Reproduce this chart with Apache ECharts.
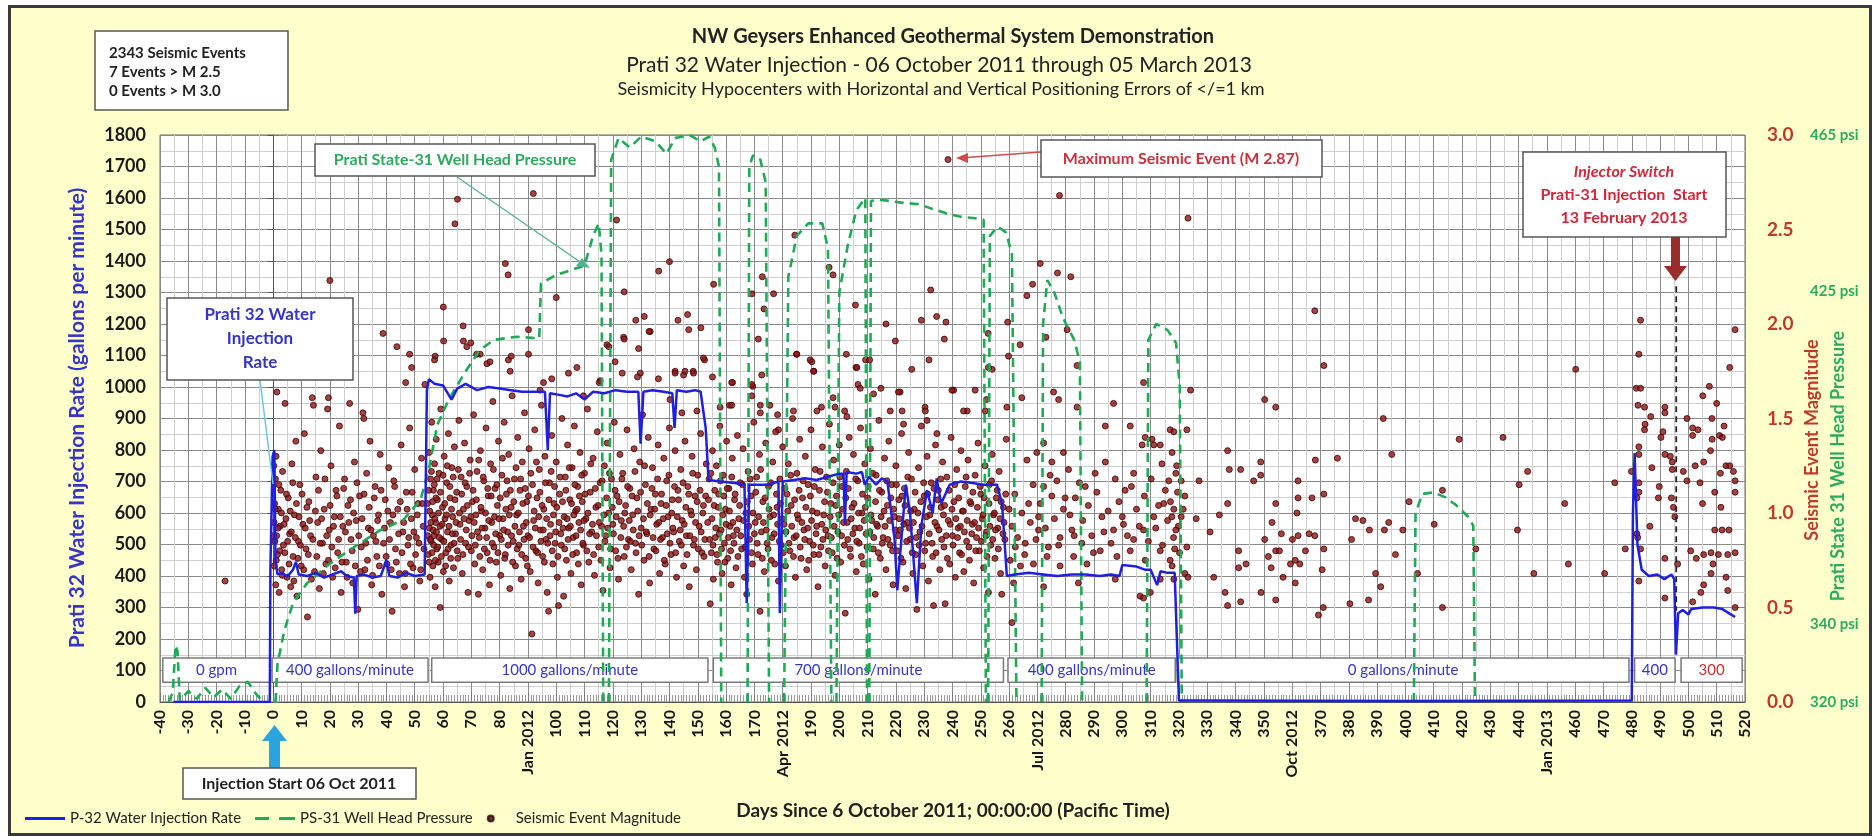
<!DOCTYPE html>
<html><head><meta charset="utf-8">
<script src="https://cdn.jsdelivr.net/npm/echarts/dist/echarts.min.js"></script>
<style>
html,body{margin:0;padding:0;background:#fff;}
#frame{position:absolute;left:8px;top:5px;width:1858px;height:825px;border:3px solid #3a3a3a;background:#FFFFCC;}
#c{position:absolute;left:0;top:0;width:1874px;height:836px;}
</style>
</head><body><div id="frame"></div><div id="c"></div>
<script>
// ---------------- DATA ----------------
// x tick labels replaced by month names
const monthTickLabels = [[90,'Jan 2012'],[180,'Apr 2012'],[270,'Jul 2012'],[360,'Oct 2012'],[450,'Jan 2013']];
const psiTickLabels = [320, 340, 425, 465];

// P-32 water injection rate [day, gallons per minute]
const injectionRate = [
[-35.3,0],[-1.2,0],[-1.0,420],[-0.2,780],[0.4,800],[0.8,450],[1.5,405],[3,410],[5,398],[7,420],[8,445],[9,405],[12,400],[15,410],[18,395],[21,405],[24,415],[26,400],[28.5,395],[29,280],[29.5,400],[32,405],[35,395],[38,400],[40,450],[41,400],[44,395],[47,410],[50,400],[53.5,405],
[54.3,990],[55,1025],[57,1010],[60,1005],[63,960],[65,995],[68,1010],[72,990],[76,1000],[80,995],[84,990],[88,985],[92,985],[96,985],[97,800],[97.8,980],[101,975],[104,970],[107,980],[110,960],[113,985],[117,980],[121,990],[125,985],[129,985],[129.8,820],[130.8,985],[134,990],[138,985],[141,980],[141.8,870],[142.6,990],[146,985],[149,990],[151,985],[152.8,870],
[153.8,705],[158,700],[163,695],[166.5,690],[167.3,314],[168.2,690],[172,690],[175,690],[178.5,700],[179,282],[180,700],[184,705],[188,710],[192,705],[196,715],[200,725],[201.5,725],[202,568],[202.6,730],[206,725],[208,730],[209,690],[210.5,715],[213,690],[215,710],[217,700],[219.5,520],[220.5,355],[222,523],[223.5,690],[225,600],[227.4,314],[229,560],[231,672],[233,600],[234.4,710],[236,630],[239,690],[243,700],[247,695],[251,690],[255.7,690],[257.5,630],
[259.2,400],[262,405],[267,410],[272,405],[277,400],[282,405],[287,405],[292,400],[296,405],[299,400],[300,435],[305,430],[308,420],[310,420],[312.3,371],[313.5,415],[316,410],[318.5,410],
[320,5],[325,5],[400,3],[480,5],[480.4,600],[481,790],[482,500],[483.5,420],[486,400],[489,405],[491.5,390],[494,405],[495,390],[495.6,150],[496.4,282],[498,292],[500,278],[501,295],[505,300],[509,300],[512,295],[515,278],[516.5,270]
];

// PS-31 well head pressure [day, psi]; null = no reading
const wellHeadPressure = [
[-37,320.0],[-35.5,322.4],[-34.5,334.5],[-33.8,332.9],[-33,320.4],[-30,322.8],[-27,320.8],[-24,323.6],[-21,321.2],[-18,323.2],[-15,320.8],[-12,324.0],[-9,325.2],[-6,322.0],[-4,320.4],null,
[0.8,320.0],[1.5,329.7],[4,338.5],[7,345.3],[12,350.4],[20,355.4],[30,360.3],[38,364.0],[46,366.6],[52,371.6],[55,379.6],[58,390.9],[62,397.3],[68,404.6],[73,410.0],[78,412.6],[86,413.4],[94,413.0],[94.6,427.1],[100,429.2],[105,430.4],[110,431.6],[113,439.2],[115,442.4],[116,434.4],[116.6,320],null,
[118.6,320],[119.4,458.6],[122,464.2],[126,461.8],[130,464.6],[135,463.4],[139,460.2],[142,464.2],[147,465.0],[151,463.4],[154,464.6],[156,461.8],[157.5,456.9],[158.3,320],null,
[167.6,320],[168.2,456.9],[169.5,459.8],[172,459.0],[174,452.9],[175.2,320],null,
[180.5,320],[182,428.8],[185,439.2],[189,442.4],[194,442.4],[196,436.0],[197.2,320],null,
[199,320],[200,424.7],[203,436.8],[206,445.7],[209.2,448.9],[209.8,320],null,
[210.6,320],[211.2,448.1],[214,448.5],[218,448.1],[222,447.7],[228,447.3],[233,446.1],[238,444.9],[243,444.1],[248,443.7],[251,443.3],[251.8,320],null,
[252.6,320],[253.2,439.2],[256,441.6],[259,440.0],[261,434.4],[262.6,320],null,
[271.5,320],[272,416.7],[273.5,427.9],[276,424.7],[279,418.3],[283,412.6],[285,407.0],[285.8,320],null,
[308.6,320],[309.2,412.6],[312,416.7],[316,415.1],[319,411.8],[320.3,400.6],[321,320],null,
[403,320],[403.6,368.3],[406,373.2],[410,373.6],[414,372.4],[418,370.3],[422,367.5],[424,365.1],[424.6,320]
];

// Prati-31 injector switch marker [day, gpm]
const injectorSwitch = [[495.7,1320],[495.7,290]];

// Seismic events [day, magnitude]
const seismicEvents = [
[-17,0.64],
[0.2,1.25],[0.3,0.95],[0.4,0.72],[0.5,1.05],[0.6,0.85],[0.8,1.18],[0.9,0.62],[1.0,1.30],[1.2,0.88],[1.3,1.64],[1.5,0.78],[1.8,1.02],[2.1,0.58],[2.4,0.93],[2.7,1.12],[3.0,0.70],[3.3,1.22],[3.6,0.83],[4.2,1.58],[4.5,0.97],[4.9,0.66],[5.3,1.08],[5.8,0.89],[6.2,0.61],[6.6,1.26],[7.0,0.77],[7.5,0.99],[8.0,1.38],[8.4,0.56],[8.9,0.85],[9.4,1.15],[9.9,0.72],[10.5,0.94],[11.0,1.42],[11.6,0.81],[12.1,0.45],[12.6,1.06],[13.2,0.88],[13.8,1.61],[14.2,1.57],[14.6,0.69],[15.1,1.19],[15.7,0.95],[16.3,0.60],[16.8,1.33],[17.4,0.84],[18.0,1.02],[18.6,0.73],[19.2,1.55],[19.5,1.61],[19.8,0.91],[20.0,2.23],[20.4,1.25],[21.0,0.66],[21.6,0.98],[22.2,1.12],[22.8,0.79],[23.4,1.46],[24.0,0.58],[24.6,0.93],[25.2,1.18],[25.8,0.74],[26.4,1.04],[27.0,1.58],[27.5,0.86],[28.1,0.63],[28.7,1.27],[29.3,0.96],[29.9,0.49],[30.5,1.09],[31.1,0.82],[31.7,1.53],[32.0,1.50],[32.4,0.70],[33.0,1.21],[33.6,0.92],[34.2,1.38],[34.8,0.62],[35.4,0.88],[36.0,1.14],[36.6,0.77],[37.2,0.99],[37.8,1.31],[38.4,0.57],[38.8,1.95],[39.0,0.84],[39.6,1.07],[40.2,0.73],[40.8,1.24],[41.4,0.95],[42.0,0.48],[42.6,1.17],[43.2,0.81],[43.7,1.88],[44.0,1.02],[44.6,0.68],[45.2,1.36],[45.8,0.90],[46.4,0.61],[47.0,1.11],[47.6,0.83],[48.2,1.45],[48.8,0.97],[49.4,0.71],[50.0,1.23],[50.6,0.87],[51.2,1.05],[51.8,0.64],[52.4,1.29],[53.0,0.93],[53.6,1.68],
[0.1,0.88],[0.7,1.02],[1.1,0.75],[1.7,0.92],[2.0,1.15],[2.3,0.80],[2.9,1.00],[3.2,0.67],[3.8,0.94],[4.1,0.79],[4.7,1.10],[5.1,0.85],[5.6,0.73],[6.0,1.01],[6.4,0.90],[6.9,1.16],[7.3,0.64],[7.8,0.87],[8.2,1.05],[8.7,0.76],[9.1,0.98],[9.6,0.83],[10.2,1.10],[10.8,0.70],[11.3,0.92],[11.9,1.03],[12.4,0.78],[12.9,0.96],[13.5,0.65],[14.0,0.86],[14.9,1.01],[15.4,0.77],[16.0,1.12],[16.6,0.84],[17.1,0.97],[17.7,0.68],[18.3,1.18],[18.9,0.88],[19.5,0.75],[20.1,1.04],[20.7,0.82],[21.3,0.93],[21.9,0.71],[22.5,1.09],[23.1,0.86],[23.7,0.98],[24.3,0.74],[24.9,1.13],[25.5,0.90],[26.1,0.66],[26.7,0.95],[27.3,1.07],[27.9,0.80],[28.4,1.00],[29.0,0.72],[29.6,1.16],[30.2,0.88],[30.8,0.69],[31.4,0.97],[32.1,1.10],[32.7,0.84],[33.3,0.75],[33.9,1.03],[34.5,0.91],[35.1,0.67],[35.7,1.08],[36.3,0.85],[36.9,0.96],[37.5,0.72],[38.1,1.12],[39.3,0.92],[39.9,0.77],[40.5,1.01],[41.1,0.86],[41.7,0.70],[42.3,0.99],[42.9,1.14],[43.5,0.74],[44.3,0.89],[44.9,1.06],[45.5,0.79],[46.1,0.95],[46.7,0.68],[47.3,1.02],[47.9,0.87],[48.5,0.73],[49.1,1.11],[49.7,0.90],[50.3,0.78],[50.9,0.99],[51.5,0.84],[52.1,0.70],[52.7,1.05],[53.3,0.81],
[54.5,1.05],[54.8,0.78],[55.0,1.32],[55.2,0.92],[55.4,0.66],[55.6,1.18],[55.8,0.85],[56.0,1.48],[56.2,0.99],[56.4,0.72],[56.6,1.12],[56.8,0.88],[57.0,1.26],[57.2,0.61],[57.4,0.95],[57.6,1.39],[57.8,0.81],[58.0,1.07],[58.3,0.74],[58.6,1.21],[58.9,0.93],[59.0,0.50],[59.2,1.55],[59.5,0.86],[59.8,1.03],[60.1,0.69],[60.4,1.30],[60.7,0.97],[61.0,0.79],[61.3,1.16],[61.6,0.90],[61.9,1.42],[62.2,0.64],[62.5,1.08],[62.8,0.83],[63.1,1.24],[63.4,0.98],[63.7,0.71],[64.0,1.35],[64.4,0.89],[64.8,1.11],[65.2,0.76],[65.6,1.49],[66.0,0.94],[66.4,1.19],[66.8,0.68],[67.2,1.02],[67.6,1.37],[68.0,0.84],[68.4,1.14],[68.8,0.58],[69.2,0.96],[69.6,1.28],[70.0,0.80],[70.4,1.06],[70.8,1.52],[71.2,0.73],[71.6,0.99],[72.0,1.22],[72.5,0.57],[72.8,0.87],[73.2,1.33],[73.6,1.01],[74.0,0.70],[74.4,1.17],[74.8,0.92],[75.2,1.45],[75.6,0.79],[76.0,1.09],[76.4,0.62],[76.8,1.26],[77.2,0.95],[77.6,1.59],[78.0,0.82],[78.4,1.13],[78.8,0.74],[79.2,1.04],[79.6,1.38],[80.0,0.88],[80.4,0.67],[80.8,1.20],[81.2,0.97],[81.6,1.48],[82.0,0.78],[82.4,1.10],[82.8,0.90],[83.2,1.31],[83.6,0.60],[84.0,1.03],[84.4,1.62],[84.8,0.85],[85.2,1.18],[85.6,0.72],[86.0,0.99],[86.4,1.40],[86.8,0.83],[87.2,1.12],[87.6,0.65],[88.0,1.27],[88.4,0.93],[88.8,1.53],[89.2,0.76],[89.6,1.06],[90.0,0.88],[90.4,1.34],[90.8,0.69],[91.4,0.36],[91.6,1.15],[92.0,0.96],[92.4,1.44],[92.8,0.80],[93.2,1.08],[93.6,0.63],[94.0,1.23],[94.4,0.91],[94.8,1.57],[95.2,0.77],[95.6,1.02],[96.0,1.30],[96.4,0.86],[96.8,0.58],[97.3,0.48],[97.6,1.16],[98.0,0.94],[98.4,1.41],[98.8,0.73],[99.2,1.05],[99.6,0.84],[100.0,1.27],[100.4,0.66],[100.8,0.51],[101.2,1.10],[101.6,0.89],[102.0,1.50],[102.6,0.56],[102.8,0.98],[103.2,1.19],[103.6,0.75],[104.0,1.36],[104.4,0.92],[104.8,1.07],[105.2,0.68],[105.6,1.24],[106.0,0.87],[106.4,1.46],[106.8,1.01],[107.2,0.79],[107.6,1.14],[108.0,0.95],[108.4,1.32],[108.8,0.62],[109.2,1.06],[109.6,0.83],[110.0,1.21],[110.5,0.97],[111.0,1.55],[111.5,0.74],[112.0,1.11],[112.5,0.90],[113.0,1.29],[113.5,0.67],[114.0,1.03],[114.5,1.43],[115.0,0.82],[115.5,1.16],[116.0,0.93],[116.5,0.59],[117.0,1.25],[117.5,0.88],[118.0,1.37],[118.5,1.00],[119.0,0.71],[119.5,1.18],[120.0,0.94],[120.5,1.48],[121.0,0.80],[121.5,1.09],[122.0,0.65],[122.5,1.31],[123.0,0.96],[123.5,1.21],[124.0,0.77],[124.5,1.04],[125.0,1.44],[125.5,0.86],[126.0,1.13],[126.5,0.70],[127.0,0.99],[127.5,1.34],[128.0,0.84],[128.5,1.08],[129.1,0.57],[129.5,1.27],[130.0,0.92],[130.5,1.52],[131.0,0.75],[131.5,1.15],[132.0,0.89],[132.5,1.40],[133.0,0.63],[133.5,1.02],[134.0,1.24],[134.5,0.81],[135.0,1.10],[135.5,0.94],[136.0,1.36],[136.5,0.68],[137.0,1.05],[137.5,0.87],[138.0,1.29],[138.5,0.73],[139.0,1.17],[139.5,0.98],[140.0,1.45],[140.5,0.78],[141.0,1.07],[141.5,0.90],[142.0,1.33],[142.5,0.66],[143.0,1.12],[143.5,0.85],[144.0,1.23],[144.5,0.96],[145.0,0.72],[145.5,1.38],[146.0,0.88],[146.5,1.14],[147.0,0.61],[147.5,1.01],[148.0,1.30],[148.5,0.83],[149.0,1.09],[149.5,0.70],[150.0,1.20],[150.5,0.93],[151.0,1.42],[151.5,0.79],[152.0,1.04],[152.5,0.86],[153.0,1.26],
[54.6,0.88],[54.9,1.12],[55.1,0.74],[55.3,1.01],[55.5,0.86],[55.7,0.95],[55.9,1.22],[56.1,0.79],[56.3,1.06],[56.5,0.91],[56.7,0.83],[56.9,1.15],[57.1,0.97],[57.3,0.75],[57.5,1.08],[57.7,0.90],[57.9,1.18],[58.1,0.82],[58.4,1.00],[58.7,0.87],[59.1,1.11],[59.4,0.77],[59.7,0.94],[60.0,1.20],[60.3,0.85],[60.6,1.05],[60.9,0.72],[61.2,0.99],[61.5,1.25],[61.8,0.81],[62.1,0.93],[62.4,1.14],[62.7,0.76],[63.0,1.02],[63.3,0.89],[63.6,1.19],[63.9,0.84],[64.2,1.07],[64.6,0.95],[65.0,0.80],[65.4,1.23],[65.8,1.00],[66.2,0.86],[66.6,1.10],[67.0,0.78],[67.4,0.97],[67.8,1.16],[68.2,0.91],[68.6,1.04],[69.0,0.82],[69.4,1.21],[69.8,0.98],[70.2,0.88],[70.6,1.12],[71.0,0.95],[71.4,0.83],[71.8,1.07],[72.2,0.90],[72.6,1.28],[73.0,0.77],[73.4,1.03],[73.8,0.92],[74.2,1.19],[74.6,0.81],[75.0,1.00],[75.4,0.87],[75.8,1.13],[76.2,0.96],[76.6,0.75],[77.0,1.09],[77.4,0.84],[77.8,1.23],[78.2,0.98],[78.6,0.89],[79.0,1.15],[79.4,0.79],[79.8,0.97],[80.2,1.08],[80.6,0.86],[81.0,1.29],[81.4,0.91],[81.8,0.76],[82.2,1.02],[82.6,1.17],[83.0,0.83],[83.4,0.99],[83.8,1.12],[84.2,0.88],[84.6,0.74],[85.0,1.06],[85.4,0.93],[85.8,1.24],[86.2,0.81],[86.6,1.00],[87.0,0.90],[87.4,1.18],[87.8,0.78],[88.2,1.05],[88.6,0.86],[89.0,1.13],[89.4,0.95],[89.8,0.72],[90.2,1.09],[90.6,0.87],[91.0,1.21],[91.8,0.82],[92.2,1.01],[92.6,0.92],[93.0,1.27],[93.4,0.79],[93.8,0.98],[94.2,1.11],[94.6,0.85],[95.0,1.04],[95.4,0.91],[95.8,0.74],[96.2,1.16],[96.6,0.97],[97.0,0.84],[97.4,1.07],[97.8,0.88],[98.2,1.22],[98.6,0.80],[99.0,0.99],[99.4,1.14],[99.8,0.90],[100.2,1.03],[100.6,0.77],[101.0,0.95],[101.4,1.19],[101.8,0.83],[102.2,1.06],[102.4,0.92],[103.0,0.81],[103.4,1.12],[103.8,0.97],[104.2,0.86],[104.6,1.24],[105.0,0.93],[105.4,1.05],[105.8,0.78],[106.2,0.99],[106.6,1.15],[107.0,0.88],[107.4,1.02],[107.8,0.73],[108.2,1.09],[108.6,0.91],[109.0,1.20],[109.4,0.84],[109.8,0.96],[110.2,1.10],[110.8,0.80],[111.2,1.00],[111.8,0.89],[112.2,1.26],[112.8,0.94],[113.2,0.78],[113.8,1.13],[114.2,0.88],[114.8,1.04],[115.2,0.95],[115.8,0.75],[116.2,1.17],[116.8,0.99],[117.2,0.85],[117.8,1.08],[118.2,0.92],[118.8,1.21],[119.2,0.81],[119.8,1.03],[120.2,0.89],[120.8,1.12],[121.2,0.98],[121.8,0.76],[122.2,1.06],[122.8,0.87],[123.2,1.18],[123.8,0.93],[124.2,1.00],[124.8,0.82],[125.2,1.14],[125.8,0.96],[126.2,0.85],[126.8,1.09],[127.2,0.91],[127.8,1.22],[128.2,0.79],[128.8,1.01],[129.3,0.88],[129.8,1.11],[130.2,0.83],[130.8,0.97],[131.2,1.25],[131.8,0.90],[132.2,1.05],[132.8,0.77],[133.2,0.99],[133.8,1.13],[134.2,0.87],[134.8,1.02],[135.2,0.80],[135.8,1.18],[136.2,0.95],[136.8,0.86],[137.2,1.10],[137.8,0.97],[138.2,0.75],[138.8,1.04],[139.2,0.89],[139.8,1.20],[140.2,0.84],[140.8,1.00],[141.2,0.92],[141.8,1.14],[142.2,0.79],[142.8,0.98],[143.2,1.07],[143.8,0.91],[144.2,0.83],[144.8,1.16],[145.2,0.94],[145.8,1.03],[146.2,0.78],[146.8,1.10],[147.2,0.88],[147.8,0.99],[148.2,1.21],[148.8,0.86],[149.2,0.95],[149.8,1.06],[150.2,0.81],[150.8,1.12],[151.2,0.90],[151.8,1.00],[152.2,0.77],[152.8,1.09],
[57.2,1.83],[60.2,1.91],[67.2,1.91],[68.4,1.88],[73.1,1.84],[75.5,1.79],[83.1,1.81],[83.7,1.75],[90.2,1.84],[95.5,1.69],[98.4,1.71],[104.3,1.74],[107.3,1.77],[117.9,1.89],[120.8,1.80],[123.8,1.93],[129.1,1.87],[133.2,1.96],[136.1,1.71],[129.7,1.74],[115.5,1.70],[109.6,1.62],[94.3,1.65],
[65.1,2.66],[64.2,2.53],[91.9,2.69],[82.0,2.32],[83.0,2.26],[60.1,2.09],[100.0,2.14],[121.3,2.55],[140.0,2.33],[136.2,2.28],[124.0,2.17],[155.6,2.21],[67.1,1.99],[69.8,1.90],[48.2,1.84],[48.9,1.77],[57.0,1.81],[46.8,1.69],[71.9,1.84],[76.6,1.80],[84.1,1.83],[90.2,1.97],[128.1,2.02],[131.1,2.04],[132.8,1.96],[143.0,2.02],[146.4,2.05],[146.8,1.97],[151.1,1.98],[152.4,1.81],[124.0,1.92],[118.6,1.88],[115.2,1.69],[123.3,1.74],[128.7,1.72],[142.0,1.75],[145.0,1.73],[148.4,1.75],[155.2,1.72],[162.3,1.69],[171.4,1.92],[172.8,2.25],[173.4,2.08],[176.8,2.16],[169.1,2.16],[184.3,2.47],[196.4,2.30],[197.8,2.26],[205.7,2.10],[216.5,2.00],[229.0,2.02],[234.4,2.04],[237.7,2.01],[237.1,1.92],[232.3,2.18],[238.4,2.87],[184.9,1.84],[189.7,1.81],[191.0,1.75],[202.5,1.84],[205.9,1.77],[209.3,1.81],[210.7,1.81],[214.7,1.66],[221.5,1.64],[225.6,1.76],[231.7,1.81],[240.4,1.65],[245.2,1.54],[252.6,1.95],[254.0,1.76],[193.7,1.56],[197.8,1.61],[201.9,1.54],[206.6,1.68],[222.2,1.54],[230.3,1.56],[252.0,1.60],[161.2,1.57],[169.4,1.67],[172.1,1.57],[175.5,1.57],[178.2,1.52],
[277.8,2.68],[323.2,2.56],[271.0,2.32],[277.1,2.27],[281.8,2.25],[268.3,2.21],[266.3,2.15],[259.5,2.01],[280.5,1.97],[273.0,1.93],
[152.0,1.82],[145.5,1.75],[148.5,1.74],[142.0,1.74],[162.0,1.69],[169.1,1.68],[172.6,1.73],[185.0,1.84],[190.3,1.80],[190.9,1.75],[206.2,1.77],[219.8,1.91],[239.8,1.65],[252.7,1.77],[259.8,1.83],[263.9,1.89],[284.0,1.78],[307.5,1.69],
[140.2,1.60],[144.4,1.53],[149.7,1.54],[157.9,1.56],[162.0,1.57],[169.1,1.62],[172.1,1.53],[178.5,1.44],[183.8,1.54],[192.1,1.54],[198.5,1.56],[202.7,1.51],[207.4,1.66],[212.1,1.63],[218.0,1.54],[220.9,1.64],[222.7,1.47],[230.4,1.54],[231.0,1.49],[234.5,1.42],[243.9,1.54],[248.0,1.65],[251.6,1.54],[259.2,1.56],[264.5,1.61],[275.7,1.64],[277.5,1.60],[284.0,1.56],[294.0,1.46],[296.9,1.58],[302.8,1.46],[310.5,1.39],[313.4,1.36],[316.9,1.44],[308.1,1.40],
[153.5,0.95],[154.0,1.18],[154.4,0.52],[154.8,0.79],[155.2,1.33],[155.5,0.65],[155.8,1.04],[156.2,0.87],[156.6,1.25],[157.0,0.74],[157.4,1.10],[157.8,1.46],[158.2,0.91],[158.6,0.68],[159.0,1.20],[159.4,0.84],[159.8,1.02],[160.2,1.38],[160.6,0.76],[161.0,1.13],[161.4,0.93],[161.8,0.62],[162.2,1.29],[162.6,0.88],[163.0,1.07],[163.5,0.71],[164.0,1.41],[164.5,0.97],[165.0,1.16],[165.5,0.81],[166.0,1.34],[166.5,0.66],[167.0,1.00],[167.3,0.57],[167.8,1.22],[168.3,0.86],[168.8,1.09],[169.3,0.73],[169.8,1.48],[170.3,0.95],[170.8,1.19],[171.3,0.78],[171.8,1.31],[172.0,0.48],[172.5,0.90],[173.0,1.06],[173.5,0.69],[174.0,1.37],[174.5,0.84],[175.0,1.14],[175.5,0.98],[176.0,0.75],[176.5,1.27],[177.0,0.89],[177.5,1.43],[178.0,1.03],[178.5,0.64],[179.0,1.18],[179.5,0.83],[180.0,1.35],[180.5,0.94],[181.0,0.72],[181.5,1.10],[182.0,1.26],[182.5,0.80],[183.0,1.04],[183.5,1.50],[184.0,0.87],[184.5,0.66],[185.0,1.21],[185.5,0.97],[186.0,1.39],[186.5,0.76],[187.0,1.08],[187.5,0.91],[188.0,1.30],[188.5,0.70],[189.0,1.15],[189.5,0.85],[190.0,1.44],[190.5,1.01],[191.0,0.78],[191.5,1.23],[192.0,0.93],[192.5,0.61],[193.0,1.12],[193.5,0.82],[194.0,1.35],[194.5,0.99],[195.0,0.72],[195.5,1.19],[196.0,0.88],[196.5,1.47],[197.0,1.05],[197.5,0.79],[198.0,1.28],[198.5,0.67],[199.0,1.09],[199.5,0.90],[200.0,1.36],[200.5,0.74],[201.0,1.14],[201.5,0.95],[202.1,0.47],[202.5,1.22],[203.0,0.86],[203.5,1.40],[204.0,0.77],[204.5,1.03],[205.0,1.31],[205.5,0.92],[206.0,0.69],[206.5,1.17],[207.0,0.84],[207.5,1.45],[208.0,1.00],[208.5,0.73],[209.0,1.26],[209.5,0.89],[210.0,1.08],[210.5,0.65],[211.0,1.34],[211.5,0.96],[212.0,0.81],[212.7,0.57],[213.0,1.20],[213.5,0.93],[214.0,1.49],[214.5,0.76],[215.0,1.11],[215.5,0.87],[216.0,1.29],[216.5,0.70],[217.0,1.04],[217.5,1.38],[218.0,0.83],[218.5,1.15],[219.0,0.62],[219.5,0.98],[220.0,1.25],[220.5,0.80],[221.0,1.07],[221.5,0.91],[222.0,1.42],[222.5,0.74],[223.0,1.13],[223.5,0.60],[224.0,0.95],[224.5,1.32],[225.0,0.86],[225.5,1.18],[226.0,0.68],[226.5,1.02],[227.0,0.78],[227.4,0.49],[228.0,1.24],[228.5,0.90],[229.0,1.46],[229.5,0.72],[230.0,1.09],[230.5,0.84],[231.0,1.30],[231.5,0.64],[232.0,0.99],[232.5,1.16],[233.0,0.77],[233.3,0.51],[234.0,1.36],[234.5,0.93],[235.0,1.12],[235.5,0.70],[236.0,1.03],[236.5,1.27],[237.0,0.82],[237.4,0.52],[238.0,1.19],[238.5,0.96],[239.0,0.73],[239.5,1.40],[240.0,0.88],[240.5,1.06],[241.0,0.66],[241.5,1.23],[242.0,0.92],[242.5,0.79],[243.0,1.33],[243.5,1.01],[244.0,0.69],[244.5,1.14],[245.0,0.85],[245.5,1.28],[246.0,0.75],[246.5,1.05],[247.0,0.94],[247.5,0.63],[248.0,1.20],[248.5,0.87],[249.0,1.37],[249.5,0.80],[250.0,1.10],[250.5,0.97],[251.0,0.71],[251.5,1.25],[252.0,0.90],[252.7,0.58],[253.0,1.15],[253.5,0.83],[254.0,1.31],[254.5,0.99],[255.0,0.76],[255.5,1.08],[256.0,0.92],[256.5,1.22],[257.0,0.68],[257.4,0.57],[258.0,1.03],[258.5,0.86],[259.0,1.39],
[153.8,1.07],[154.2,0.86],[154.6,1.21],[155.0,0.97],[155.4,0.83],[156.0,1.12],[156.4,0.92],[156.8,0.78],[157.2,1.03],[157.6,0.89],[158.0,1.17],[158.4,0.81],[158.8,0.99],[159.2,1.09],[159.6,0.74],[160.0,0.94],[160.4,1.13],[160.8,0.87],[161.2,1.01],[161.6,0.80],[162.0,1.19],[162.4,0.95],[162.8,0.84],[163.2,1.10],[163.8,0.91],[164.2,0.77],[164.8,1.04],[165.2,0.88],[165.8,1.15],[166.2,0.96],[166.8,0.82],[167.5,1.06],[168.0,0.93],[168.5,1.18],[169.0,0.79],[169.5,1.00],[170.0,0.89],[170.5,1.11],[171.0,0.84],[171.5,0.98],[172.2,1.23],[172.8,0.76],[173.2,0.95],[173.8,1.08],[174.2,0.91],[174.8,0.81],[175.2,1.02],[175.8,1.16],[176.2,0.87],[176.8,0.99],[177.2,0.73],[177.8,1.10],[178.2,0.94],[178.8,0.85],[179.2,1.05],[179.8,0.97],[180.2,0.79],[180.8,1.13],[181.2,0.90],[181.8,1.01],[182.2,0.84],[182.8,1.20],[183.2,0.93],[183.8,0.77],[184.2,1.07],[184.8,0.88],[185.2,0.99],[185.8,1.12],[186.2,0.82],[186.8,0.95],[187.2,1.17],[187.8,0.86],[188.2,1.03],[188.8,0.92],[189.2,0.75],[189.8,1.09],[190.2,0.96],[190.8,0.83],[191.2,1.14],[191.8,0.89],[192.2,1.00],[192.8,0.78],[193.2,1.22],[193.8,0.94],[194.2,0.86],[194.8,1.06],[195.2,0.91],[195.8,1.11],[196.2,0.80],[196.8,0.98],[197.2,0.87],[197.8,1.16],[198.2,0.93],[198.8,1.04],[199.2,0.76],[199.8,0.99],[200.2,1.19],[200.8,0.88],[201.2,1.02],[201.8,0.83],[202.3,1.08],[202.8,0.95],[203.2,1.13],[203.8,0.81],[204.2,0.97],[204.8,0.89],[205.2,1.05],[205.8,1.18],[206.2,0.85],[206.8,1.00],[207.2,0.92],[207.8,0.77],[208.2,1.10],[208.8,0.96],[209.2,1.03],[209.8,0.82],[210.2,1.14],[210.8,0.90],[211.2,0.99],[211.8,1.21],[212.2,0.87],[212.8,1.06],[213.2,0.94],[213.8,0.79],[214.2,1.12],[214.8,0.98],[215.2,0.84],[215.8,1.01],[216.2,0.93],[216.8,1.17],[217.2,0.86],[217.8,0.96],[218.2,1.08],[218.8,0.80],[219.2,1.02],[219.8,0.91],[220.2,1.15],[220.8,0.88],[221.2,0.97],[221.8,0.76],[222.2,1.09],[222.8,0.94],[223.2,1.04],[223.8,0.85],[224.2,1.19],[224.8,0.92],[225.2,1.01],[225.8,0.79],[226.2,0.95],[226.8,1.11],[227.2,0.87],[227.8,1.00],[228.2,0.83],[228.8,1.06],[229.2,0.93],[229.8,1.16],[230.2,0.80],[230.8,0.98],[231.2,1.10],[231.8,0.89],[232.2,1.03],[232.8,0.84],[233.5,1.13],[233.8,0.95],[234.2,0.79],[234.8,1.07],[235.2,0.91],[235.8,1.18],[236.2,0.86],[236.8,0.99],[237.2,1.04],[237.8,0.88],[238.2,0.76],[238.8,1.12],[239.2,0.94],[239.8,1.02],[240.2,0.83],[240.8,1.15],[241.2,0.97],[241.8,0.87],[242.2,1.08],[242.8,0.93],[243.2,0.78],[243.8,1.01],[244.2,0.90],[244.8,1.19],[245.2,0.96],[245.8,0.82],[246.2,1.06],[246.8,0.89],[247.2,1.11],[247.8,0.95],[248.2,0.80],[248.8,1.03],[249.2,0.92],[249.8,1.14],[250.2,0.85],[250.8,0.99],[251.2,1.08],[251.8,0.88],[252.2,0.77],[252.9,1.05],[253.2,0.93],[253.8,1.17],[254.2,0.86],[254.8,1.00],[255.2,0.91],[255.8,1.12],[256.2,0.81],[256.8,0.97],[257.2,1.06],[257.8,0.89],[258.2,0.95],[258.8,1.10],
[266.3,1.28],[269.8,1.32],[272.2,1.37],[275.1,1.27],[279.2,1.32],[281.0,1.23],[276.9,1.17],[272.2,1.14],[266.9,1.05],[270.4,0.98],[275.1,1.09],[279.2,1.02],[283.4,1.08],[286.9,1.14],[290.4,1.21],[294.0,1.27],[297.5,1.18],[301.0,1.12],[304.0,1.21],[307.0,1.36],[311.1,1.36],[314.0,1.26],[316.4,1.17],[314.6,1.05],[311.1,0.98],[307.5,0.91],[304.0,0.86],[300.4,0.94],[296.9,0.91],[292.8,0.98],[289.2,0.88],[285.7,0.84],[282.2,0.91],[278.0,0.87],[273.9,0.82],[270.4,0.91],[265.7,0.84],[262.2,0.82],[260.4,0.75],[264.0,0.72],[268.6,0.73],[273.4,0.77],[278.0,0.72],[282.8,0.77],[287.5,0.73],[292.2,0.80],[298.1,0.77],[302.8,0.80],[308.1,0.75],[313.4,0.80],[316.9,0.75],[318.1,0.87],[317.5,0.98],[306.3,0.56],[309.9,0.58],[297.5,0.65],[313.4,0.65],[261.6,0.63],[272.2,0.61],[284.5,0.63],[261.0,0.42],[307.5,0.55],
[260.0,1.02],[261.0,0.93],[262.0,1.10],[263.0,0.87],[264.5,1.00],[265.5,0.78],[267.5,0.95],[268.5,1.15],[269.5,0.86],[271.0,1.05],[272.8,0.92],[274.5,1.20],[276.0,0.97],[277.5,0.83],[279.8,1.08],[281.5,0.99],[283.0,0.88],[284.8,1.16],[286.0,0.96],[288.0,1.04],[289.8,0.79],[291.0,1.11],[293.5,0.90],[295.0,1.01],[296.0,0.84],[298.8,1.06],[300.0,0.98],[301.8,0.88],[303.2,1.14],[305.0,1.02],[306.0,0.93],[307.8,1.09],[309.2,0.85],[310.2,1.18],[311.8,0.92],[312.8,1.04],[314.2,0.83],[315.2,1.12],[316.0,0.96],[317.0,1.06],[318.5,0.81],[319.2,1.25],[319.8,0.93],[321.5,1.02],
[318.2,1.43],[317.6,1.32],[318.9,1.21],[320.8,1.17],[319.5,1.11],[322.1,1.09],[318.2,1.02],[320.8,0.98],[318.9,0.91],[322.8,0.82],[320.2,0.79],[317.6,0.72],[322.1,0.68],[323.2,0.66],[318.2,0.65],[324.1,1.65],[322.8,1.44],
[368.0,2.07],[371.2,1.78],[350.3,1.60],[354.2,1.56],[392.2,1.50],[419.0,1.39],[434.5,1.40],[460.2,1.76],[395.2,1.31],[376.0,1.29],[368.2,1.28],[337.2,1.33],[337.8,1.23],[341.8,1.23],[348.9,1.27],[348.9,1.20],[346.4,1.17],[362.1,1.17],[327.1,1.17],[443.2,1.22],[440.2,1.15],[413.1,1.12],[474.0,1.16],[456.3,1.05],[401.3,1.06],[362.1,1.08],[367.0,1.08],[371.2,1.10],[337.2,1.05],[354.2,1.05],[334.3,0.99],[326.1,0.97],[361.7,1.00],[382.4,0.97],[385.0,0.96],[394.1,0.95],[387.3,0.91],[392.6,0.91],[399.1,0.91],[410.2,0.94],[439.6,0.91],[331.0,0.90],[352.9,0.95],[356.2,0.89],[350.3,0.86],[360.1,0.86],[362.1,0.88],[366.0,0.89],[368.0,0.88],[381.0,0.86],[371.2,0.81],[341.1,0.80],[354.2,0.80],[355.5,0.80],[351.6,0.77],[364.7,0.80],[362.7,0.73],[361.1,0.75],[359.4,0.73],[343.7,0.73],[341.1,0.71],[352.6,0.71],[356.8,0.66],[361.1,0.63],[370.6,0.70],[389.5,0.68],[396.5,0.78],[404.3,0.68],[424.9,0.81],[445.4,0.68],[457.6,0.73],[470.4,0.68],[477.7,0.81],[332.3,0.66],[336.3,0.58],[349.0,0.58],[354.2,0.54],[337.2,0.51],[341.8,0.53],[380.4,0.52],[387.0,0.54],[391.3,0.61],[413.1,0.50],[371.0,0.50],[369.3,0.46],
[483.1,2.02],[482.5,1.84],[514.6,1.77],[516.5,1.97],[481.6,1.66],[483.1,1.66],[507.4,1.67],[505.1,1.62],[510.0,1.58],[482.2,1.57],[484.5,1.56],[486.7,1.51],[491.7,1.56],[491.7,1.53],[499.5,1.50],[508.3,1.50],[512.6,1.46],[501.5,1.45],[503.4,1.44],[501.5,1.41],[511.0,1.41],[512.0,1.40],[491.0,1.43],[490.3,1.40],[484.5,1.44],[484.7,1.47],[508.4,1.39],[482.5,1.35],[482.5,1.31],[491.7,1.31],[493.6,1.30],[505.4,1.27],[502.4,1.25],[507.8,1.33],[513.3,1.25],[514.6,1.25],[515.9,1.22],[487.1,1.24],[494.3,1.27],[494.3,1.23],[499.5,1.17],[504.1,1.16],[498.2,1.22],[516.5,1.17],[516.5,1.11],[511.3,1.21],[479.9,1.22],[482.5,1.16],[482.5,1.11],[481.8,1.08],[489.7,1.14],[489.4,1.08],[494.0,1.08],[494.7,1.03],[495.2,0.98],[505.0,1.05],[509.3,1.11],[511.5,1.03],[486.4,0.93],[509.3,0.91],[511.9,0.91],[514.3,0.91],[481.8,0.89],[482.1,0.87],[483.1,0.81],[500.8,0.80],[505.4,0.78],[508.0,0.79],[510.6,0.78],[513.9,0.78],[502.8,0.76],[508.7,0.73],[516.5,0.79],[496.2,0.73],[491.7,0.76],[508.0,0.68],[513.3,0.66],[505.4,0.62],[513.9,0.59],[482.5,0.64],[491.7,0.55],[501.5,0.53],[504.4,0.58],[516.5,0.50]
];

// Injection-rate period labels [startDay, endDay, text]
const ratePeriods = [[-39,-1.1,'0 gpm'],[-0.4,54.7,'400 gallons/minute'],[56,153.6,'1000 gallons/minute'],[155.5,258,'700 gallons/minute'],[259.6,318.7,'400 gallons/minute'],[319.4,479,'0 gallons/minute'],[481,495.3,'400'],[497.4,519,'300']];

// ---------------- CHART ----------------
const FONT = 'Lato, "Liberation Sans", sans-serif';
const BLUE = '#1f1fe0', GREEN = '#1faa55', RED = '#c0392b', TEXTBLUE = '#3535c8', PSIGREEN = '#2eaa5e';
const monthMap = {}; monthTickLabels.forEach(p => monthMap[p[0]] = p[1]);
const psiSet = new Set(psiTickLabels);
const pressureData = wellHeadPressure.map((p, i) => p === null ? [wellHeadPressure[i-1][0] + 0.1, '-'] : p);

const boxLow = 63, boxHigh = 140;
const areaData = ratePeriods.map(r => [
  {xAxis: r[0], yAxis: boxLow, name: r[2], label: {color: r[2] === '300' ? '#d03030' : TEXTBLUE}},
  {xAxis: r[1], yAxis: boxHigh}
]);

function txt(x, y, text, font, fill, extra) {
  return Object.assign({type: 'text', x: x, y: y, z: 11, style: {text: text, font: font, fill: fill,
    textAlign: 'center', textVerticalAlign: 'middle', align: 'center', verticalAlign: 'middle'}}, extra || {});
}
function box(x, y, w, h) {
  return {type: 'rect', z: 10, shape: {x: x, y: y, width: w, height: h}, style: {fill: '#fff', stroke: '#555', lineWidth: 1.5}};
}

const chart = echarts.init(document.getElementById('c'), null, {renderer: 'canvas'});
const option = {
  backgroundColor: 'transparent',
  animation: false,
  textStyle: {fontFamily: FONT},
  grid: {left: 160, right: 129, top: 135, bottom: 134, show: true, backgroundColor: '#ffffff', borderColor: '#666', borderWidth: 1, containLabel: false, outerBoundsMode: 'none'},
  legend: {
    left: 20, top: 806, itemGap: 14, itemWidth: 40, itemHeight: 6,
    textStyle: {fontFamily: FONT, fontSize: 15, color: '#222'},
    data: [
      {name: 'P-32 Water Injection Rate', icon: 'path://M0,0 L40,0 L40,3 L0,3 Z'},
      {name: 'PS-31 Well Head Pressure', icon: 'path://M0,0 L14,0 L14,3 L0,3 Z M24,0 L40,0 L40,3 L24,3 Z'},
      {name: 'Seismic Event Magnitude', icon: 'circle', itemStyle: {color: '#2a0a0a'}}
    ]
  },
  xAxis: [{
    type: 'value', min: -40, max: 520, interval: 10,
    axisLine: {show: true, lineStyle: {color: '#555'}},
    axisTick: {show: true, inside: true, length: 8, lineStyle: {color: '#777'}},
    axisLabel: {rotate: 90, margin: 8, fontFamily: FONT, fontWeight: 'bold', fontSize: 16, color: '#151515',
      formatter: v => monthMap[v] !== undefined ? monthMap[v] : String(v)},
    splitLine: {show: true, lineStyle: {color: '#8a8a8a', width: 1}},
    minorTick: {show: false, splitNumber: 2},
    minorSplitLine: {show: true, lineStyle: {color: '#cfcfcf', width: 1}}
  }, {
    type: 'value', min: -40, max: 520, interval: 10, position: 'bottom',
    axisLine: {show: false}, axisLabel: {show: false}, splitLine: {show: false},
    axisTick: {show: false, inside: true},
    minorTick: {show: true, splitNumber: 10, length: 7, lineStyle: {color: '#999'}}
  }],
  yAxis: [{
    type: 'value', min: 0, max: 1800, interval: 100, position: 'left',
    axisLine: {show: true, lineStyle: {color: '#555'}},
    axisTick: {show: true, length: 6, lineStyle: {color: '#555'}},
    axisLabel: {margin: 14, fontFamily: FONT, fontWeight: 'bold', fontSize: 18, color: '#1a1a1a', formatter: v => String(v)},
    splitLine: {show: true, lineStyle: {color: '#8a8a8a'}},
    minorTick: {show: false, splitNumber: 2},
    minorSplitLine: {show: true, lineStyle: {color: '#cfcfcf'}}
  }, {
    type: 'value', min: 0, max: 3, interval: 0.5, position: 'right',
    axisLine: {show: true, lineStyle: {color: '#555'}},
    axisTick: {show: true, length: 6, lineStyle: {color: '#777'}},
    axisLabel: {margin: 22, fontFamily: FONT, fontWeight: 'bold', fontSize: 19, color: RED, formatter: v => v.toFixed(1)},
    splitLine: {show: false}
  }, {
    type: 'value', min: 320, max: 465, interval: 5, position: 'right',
    axisLine: {show: false}, axisTick: {show: false}, splitLine: {show: false},
    axisLabel: {margin: 65, fontFamily: FONT, fontWeight: 'bold', fontSize: 15, color: PSIGREEN,
      formatter: v => psiSet.has(v) ? v + ' psi' : ''}
  }],
  series: [
    {
      name: 'periods', type: 'line', xAxisIndex: 0, yAxisIndex: 0, data: [], z: 1, silent: true,
      markArea: {
        silent: true,
        itemStyle: {color: '#ffffff', borderColor: '#7a7a7a', borderWidth: 1.5},
        label: {show: true, position: 'inside', fontFamily: FONT, fontSize: 15, color: TEXTBLUE},
        data: areaData
      }
    },
    {
      name: 'Seismic Event Magnitude', type: 'scatter', xAxisIndex: 0, yAxisIndex: 1, z: 2,
      symbol: 'circle', symbolSize: 6,
      itemStyle: {color: '#8e1414', borderColor: '#3a0505', borderWidth: 1},
      data: seismicEvents
    },
    {
      name: 'PS-31 Well Head Pressure', type: 'line', xAxisIndex: 0, yAxisIndex: 2, z: 3,
      symbol: 'none', connectNulls: false,
      lineStyle: {color: GREEN, width: 2.6, type: [9, 6]},
      itemStyle: {color: GREEN},
      data: pressureData
    },
    {
      name: 'P-32 Water Injection Rate', type: 'line', xAxisIndex: 0, yAxisIndex: 0, z: 4,
      symbol: 'none', lineStyle: {color: BLUE, width: 2.5}, itemStyle: {color: BLUE},
      data: injectionRate
    },
    {
      name: 'switch', type: 'line', xAxisIndex: 0, yAxisIndex: 0, z: 4, symbol: 'none',
      lineStyle: {color: '#222', width: 1.8, type: [6, 4]}, data: injectorSwitch
    }
  ],
  graphic: [
    // titles
    txt(953, 37, 'NW Geysers Enhanced Geothermal System Demonstration', 'bold 20px ' + FONT, '#222'),
    txt(939, 65, 'Prati 32 Water Injection - 06 October 2011 through 05 March 2013', '21px ' + FONT, '#222'),
    txt(941, 89, 'Seismicity Hypocenters with Horizontal and Vertical Positioning Errors of </=1 km', '18px ' + FONT, '#222'),
    // event count box
    box(95, 31, 193, 79),
    {type: 'text', x: 109, y: 53, z: 11, style: {text: '2343 Seismic Events', font: 'bold 15px ' + FONT, fill: '#222', textVerticalAlign: 'middle', verticalAlign: 'middle'}},
    {type: 'text', x: 109, y: 72, z: 11, style: {text: '7 Events > M 2.5', font: 'bold 15px ' + FONT, fill: '#222', textVerticalAlign: 'middle', verticalAlign: 'middle'}},
    {type: 'text', x: 109, y: 91, z: 11, style: {text: '0 Events > M 3.0', font: 'bold 15px ' + FONT, fill: '#222', textVerticalAlign: 'middle', verticalAlign: 'middle'}},
    // axis titles
    txt(77, 418, 'Prati 32 Water Injection Rate (gallons per minute)', 'bold 21px ' + FONT, TEXTBLUE, {rotation: Math.PI / 2}),
    txt(1812, 440, 'Seismic Event Magnitude', 'bold 18px ' + FONT, RED, {rotation: Math.PI / 2}),
    txt(1838, 466, 'Prati State 31 Well Head Pressure', 'bold 18px ' + FONT, PSIGREEN, {rotation: Math.PI / 2}),
    txt(953, 811, 'Days Since 6 October 2011; 00:00:00 (Pacific Time)', 'bold 19px ' + FONT, '#222'),
    // Prati 32 callout
    {type: 'line', z: 10, shape: {x1: 260, y1: 380, x2: 273, y2: 484}, style: {stroke: '#6ec6e6', lineWidth: 1.5}},
    box(167, 298, 186, 82),
    txt(260, 339, 'Prati 32 Water\nInjection\nRate', 'bold 17px ' + FONT, TEXTBLUE, {style: {text: 'Prati 32 Water\nInjection\nRate', font: 'bold 17px ' + FONT, fill: TEXTBLUE, lineHeight: 24, textAlign: 'center', textVerticalAlign: 'middle', align: 'center', verticalAlign: 'middle'}}),
    // Well head pressure callout
    {type: 'line', z: 10, shape: {x1: 457, y1: 177, x2: 586, y2: 266}, style: {stroke: '#55b08e', lineWidth: 1.3}},
    {type: 'polygon', z: 10, shape: {points: [[590, 268], [576, 266], [582, 258]]}, style: {fill: '#55b08e'}},
    box(315, 144, 280, 32),
    txt(455, 160, 'Prati State-31 Well Head Pressure', 'bold 16px ' + FONT, PSIGREEN),
    // Max event callout
    {type: 'line', z: 10, shape: {x1: 1041, y1: 152, x2: 960, y2: 158}, style: {stroke: '#d24a4a', lineWidth: 1.3}},
    {type: 'polygon', z: 10, shape: {points: [[956, 158], [968, 153], [968, 163]]}, style: {fill: '#d24a4a'}},
    box(1041, 140, 281, 37),
    txt(1181, 159, 'Maximum Seismic Event (M 2.87)', 'bold 16px ' + FONT, '#c8323c'),
    // Injector switch callout
    box(1523, 152, 203, 85),
    txt(1624, 172, 'Injector Switch', 'italic bold 16px ' + FONT, '#d02838'),
    txt(1624, 195, 'Prati-31 Injection  Start', 'bold 16px ' + FONT, '#d02838'),
    txt(1624, 218, '13 February 2013', 'bold 16px ' + FONT, '#d02838'),
    {type: 'rect', z: 10, shape: {x: 1671, y: 237, width: 9, height: 31}, style: {fill: '#9b2c2c'}},
    {type: 'polygon', z: 10, shape: {points: [[1664, 266], [1687, 266], [1675.5, 281]]}, style: {fill: '#9b2c2c'}},
    // Injection start callout
    {type: 'rect', z: 10, shape: {x: 269, y: 738, width: 11, height: 30}, style: {fill: '#2ba3dc'}},
    {type: 'polygon', z: 10, shape: {points: [[262, 741], [287, 741], [274.5, 725]]}, style: {fill: '#2ba3dc'}},
    box(183, 768, 233, 31),
    txt(299, 784, 'Injection Start 06 Oct 2011', 'bold 16px ' + FONT, '#222')
  ]
};
chart.setOption(option);
</script>
</body></html>
